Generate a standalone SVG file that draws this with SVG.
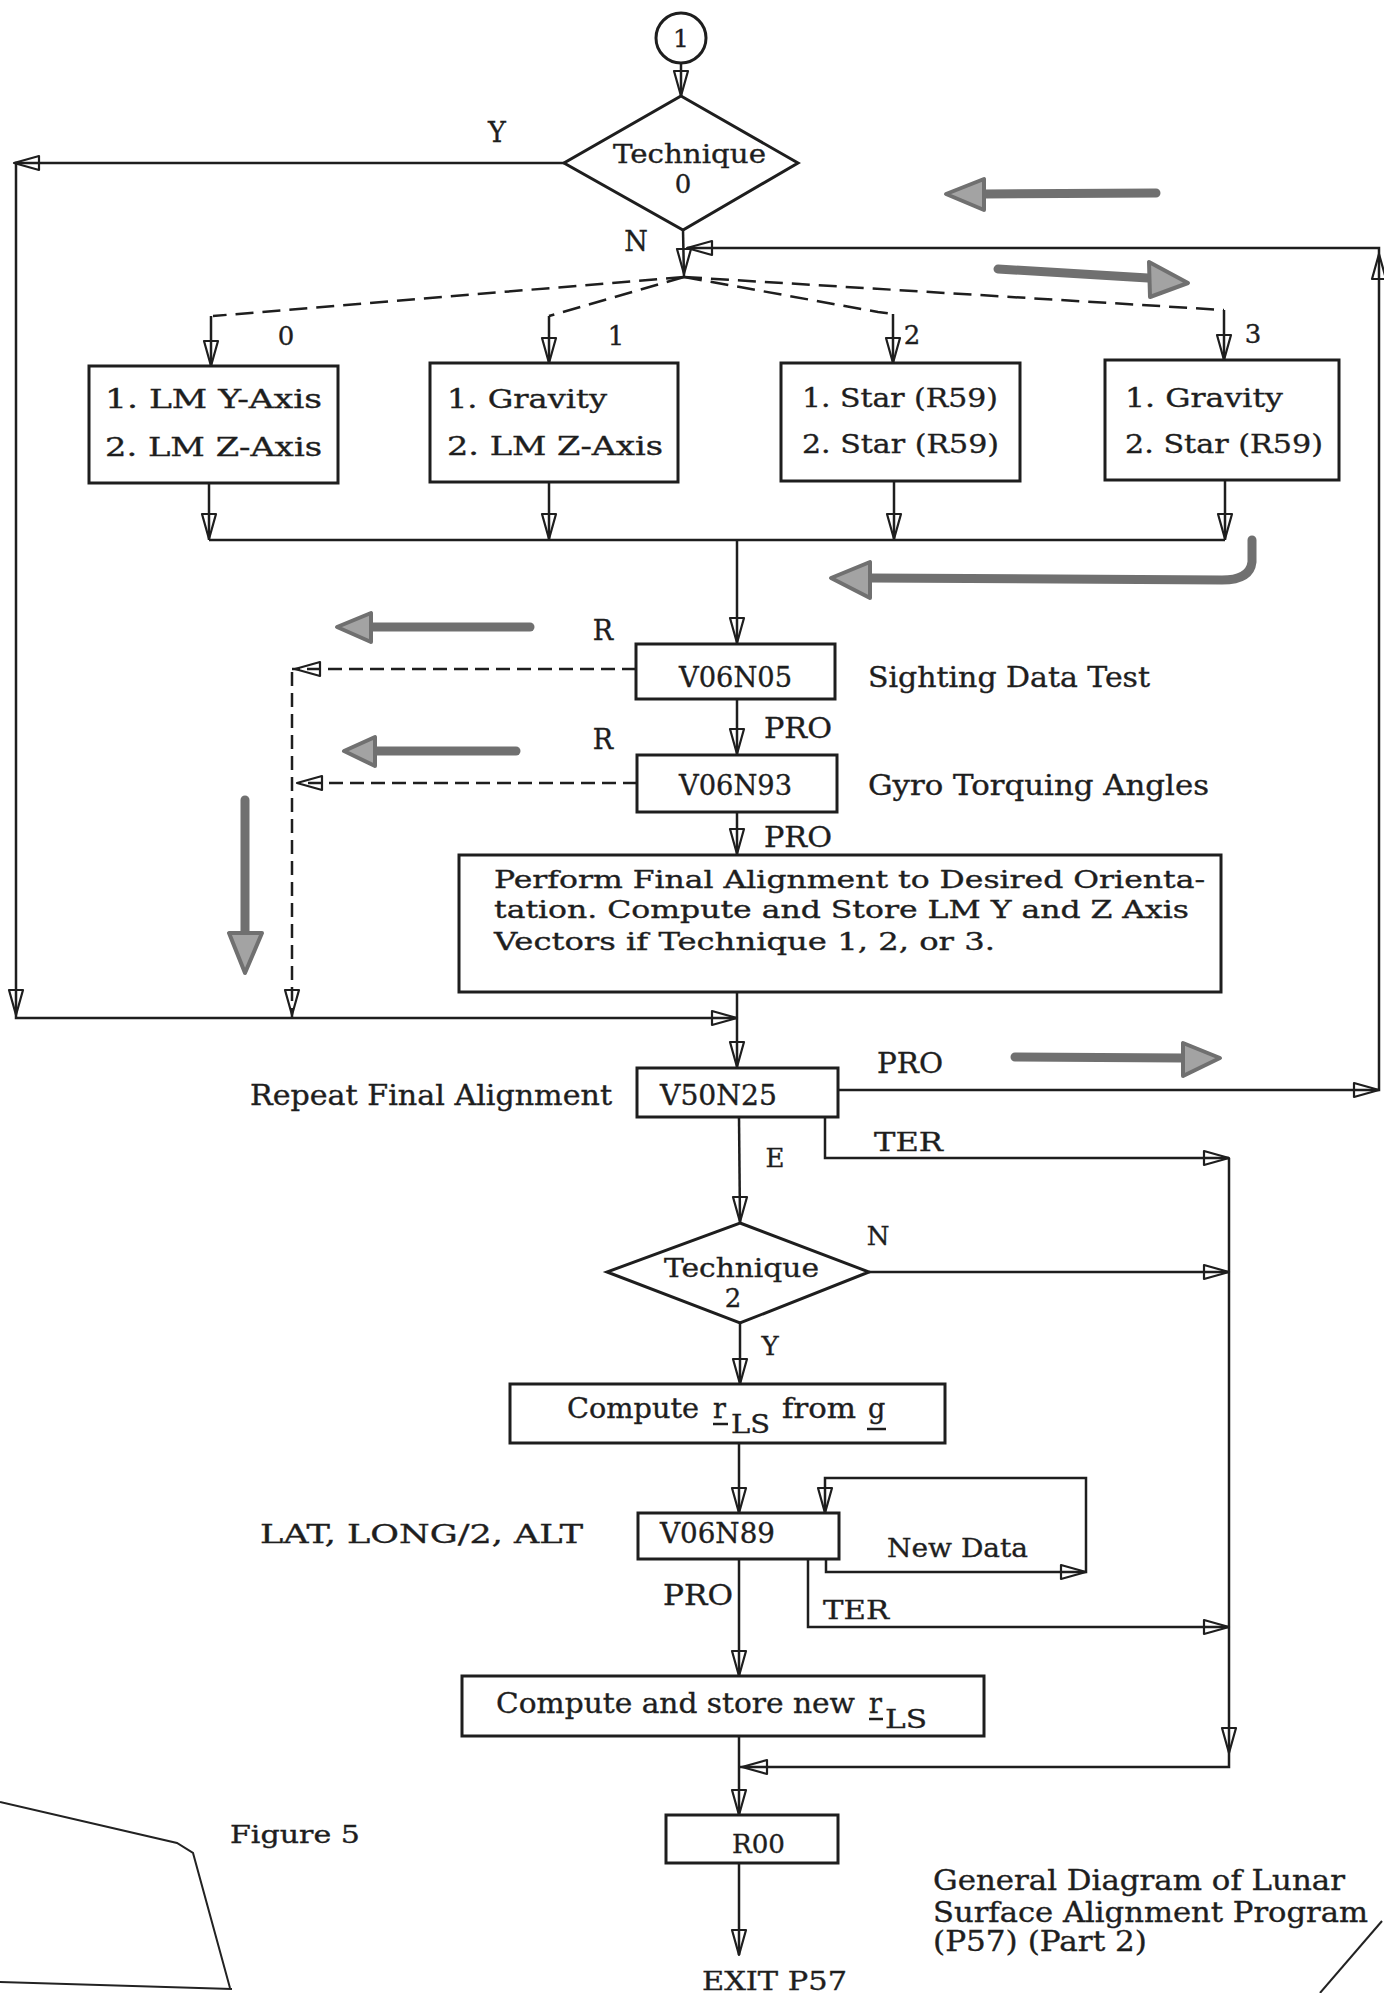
<svg xmlns="http://www.w3.org/2000/svg" width="1384" height="1993" viewBox="0 0 1384 1993">
<style>
.t{font-family:"DejaVu Serif","Liberation Serif",serif;fill:#1e1e1e;stroke:#1e1e1e;stroke-width:0.35;}
.box{fill:none;stroke:#1e1e1e;stroke-width:3;}
.ln{fill:none;stroke:#1e1e1e;stroke-width:2.5;}
.dash{fill:none;stroke:#1e1e1e;stroke-width:2.5;stroke-dasharray:18 9;}
.dash2{fill:none;stroke:#1e1e1e;stroke-width:2.5;stroke-dasharray:14 7;}
.gray{fill:none;stroke:#707070;stroke-width:9;stroke-linecap:round;stroke-linejoin:round;}
.ghead{fill:#a3a3a3;stroke:#707070;stroke-width:4;stroke-linejoin:round;}
.edge{fill:none;stroke:#222;stroke-width:2;}
</style>
<defs>
<path id="ah" d="M0,0 L-7,-25 L7,-25 Z" fill="none" stroke="#1e1e1e" stroke-width="2.2" stroke-linejoin="round"/>
</defs>
<rect width="1384" height="1993" fill="#ffffff"/>

<!-- nodes -->
<g id="start">
<ellipse cx="681" cy="38" rx="25" ry="25" class="box"/>
<text class="t" x="681" y="47" font-size="25" text-anchor="middle">1</text>
</g>
<g id="dec-technique0">
<polygon points="681,96 798,163 683,230 564,163" class="box"/>
<text class="t" x="613" y="163" font-size="26" textLength="153" lengthAdjust="spacingAndGlyphs">Technique</text>
<text class="t" x="683" y="193" font-size="26" text-anchor="middle">0</text>
</g>
<g id="box-t0">
<rect x="89" y="366" width="249" height="117" class="box"/>
<text class="t" x="105" y="408" font-size="26" textLength="217" lengthAdjust="spacingAndGlyphs">1.  LM Y-Axis</text>
<text class="t" x="105" y="456" font-size="26" textLength="217" lengthAdjust="spacingAndGlyphs">2.  LM Z-Axis</text>
</g>
<g id="box-t1">
<rect x="430" y="363" width="248" height="119" class="box"/>
<text class="t" x="447" y="408" font-size="26" textLength="160" lengthAdjust="spacingAndGlyphs">1.  Gravity</text>
<text class="t" x="447" y="455" font-size="26" textLength="216" lengthAdjust="spacingAndGlyphs">2.  LM Z-Axis</text>
</g>
<g id="box-t2">
<rect x="781" y="363" width="239" height="118" class="box"/>
<text class="t" x="802" y="407" font-size="26" textLength="196" lengthAdjust="spacingAndGlyphs">1.  Star (R59)</text>
<text class="t" x="802" y="453" font-size="26" textLength="197" lengthAdjust="spacingAndGlyphs">2.  Star (R59)</text>
</g>
<g id="box-t3">
<rect x="1105" y="360" width="234" height="120" class="box"/>
<text class="t" x="1125" y="407" font-size="26" textLength="158" lengthAdjust="spacingAndGlyphs">1.  Gravity</text>
<text class="t" x="1125" y="453" font-size="26" textLength="198" lengthAdjust="spacingAndGlyphs">2.  Star (R59)</text>
</g>
<g id="v06n05">
<rect x="636" y="644" width="199" height="55" class="box"/>
<text class="t" x="679" y="687" font-size="27" textLength="113" lengthAdjust="spacingAndGlyphs">V06N05</text>
<text class="t" x="868" y="687" font-size="27" textLength="282" lengthAdjust="spacingAndGlyphs">Sighting Data Test</text>
</g>
<g id="v06n93">
<rect x="637" y="755" width="200" height="57" class="box"/>
<text class="t" x="679" y="795" font-size="27" textLength="113" lengthAdjust="spacingAndGlyphs">V06N93</text>
<text class="t" x="868" y="795" font-size="27" textLength="341" lengthAdjust="spacingAndGlyphs">Gyro Torquing Angles</text>
</g>
<g id="final-align">
<rect x="459" y="855" width="762" height="137" class="box"/>
<text class="t" x="494" y="888" font-size="24" textLength="711" lengthAdjust="spacingAndGlyphs">Perform Final Alignment to Desired Orienta-</text>
<text class="t" x="494" y="918" font-size="24" textLength="695" lengthAdjust="spacingAndGlyphs">tation.  Compute and Store LM Y and Z Axis</text>
<text class="t" x="494" y="950" font-size="24" textLength="501" lengthAdjust="spacingAndGlyphs">Vectors if Technique 1, 2, or 3.</text>
</g>
<g id="v50n25">
<rect x="637" y="1068" width="201" height="49" class="box"/>
<text class="t" x="660" y="1105" font-size="27" textLength="117" lengthAdjust="spacingAndGlyphs">V50N25</text>
<text class="t" x="250" y="1105" font-size="27" textLength="362" lengthAdjust="spacingAndGlyphs">Repeat Final Alignment</text>
</g>
<g id="dec-technique2">
<polygon points="740,1223 869,1272 740,1323 607,1272" class="box"/>
<text class="t" x="664" y="1277" font-size="26" textLength="155" lengthAdjust="spacingAndGlyphs">Technique</text>
<text class="t" x="733" y="1307" font-size="26" text-anchor="middle">2</text>
</g>
<g id="compute-rls">
<rect x="510" y="1384" width="435" height="59" class="box"/>
<text class="t" x="567" y="1418" font-size="27" textLength="132" lengthAdjust="spacingAndGlyphs">Compute</text>
<text class="t" x="713" y="1418" font-size="27">r</text>
<text class="t" x="731" y="1433" font-size="26" textLength="39" lengthAdjust="spacingAndGlyphs">LS</text>
<text class="t" x="782" y="1418" font-size="27" textLength="74" lengthAdjust="spacingAndGlyphs">from</text>
<text class="t" x="868" y="1418" font-size="27">g</text>
<line x1="713" y1="1424" x2="728" y2="1424" class="ln" stroke-width="2"/>
<line x1="867" y1="1429" x2="886" y2="1429" class="ln" stroke-width="2"/>
</g>
<g id="v06n89">
<rect x="638" y="1513" width="201" height="46" class="box"/>
<text class="t" x="660" y="1543" font-size="27" textLength="115" lengthAdjust="spacingAndGlyphs">V06N89</text>
<text class="t" x="260" y="1543" font-size="26" textLength="323" lengthAdjust="spacingAndGlyphs">LAT, LONG/2, ALT</text>
</g>
<g id="store-rls">
<rect x="462" y="1676" width="522" height="60" class="box"/>
<text class="t" x="496" y="1713" font-size="27" textLength="359" lengthAdjust="spacingAndGlyphs">Compute and store new</text>
<text class="t" x="869" y="1713" font-size="27">r</text>
<text class="t" x="885" y="1728" font-size="26" textLength="42" lengthAdjust="spacingAndGlyphs">LS</text>
<line x1="869" y1="1719" x2="883" y2="1719" class="ln" stroke-width="2"/>
</g>
<g id="r00">
<rect x="666" y="1815" width="172" height="48" class="box"/>
<text class="t" x="732" y="1853" font-size="26" textLength="53" lengthAdjust="spacingAndGlyphs">R00</text>
</g>
<g id="exit">
<text class="t" x="702" y="1990" font-size="26" textLength="145" lengthAdjust="spacingAndGlyphs">EXIT P57</text>
</g>
<g id="caption">
<text class="t" x="230" y="1843" font-size="25" textLength="130" lengthAdjust="spacingAndGlyphs">Figure 5</text>
<text class="t" x="933" y="1890" font-size="27" textLength="412" lengthAdjust="spacingAndGlyphs">General Diagram of Lunar</text>
<text class="t" x="933" y="1922" font-size="27" textLength="435" lengthAdjust="spacingAndGlyphs">Surface Alignment Program</text>
<text class="t" x="933" y="1951" font-size="27" textLength="214" lengthAdjust="spacingAndGlyphs">(P57) (Part 2)</text>
</g>

<!-- connectors -->
<g id="connectors">
<line x1="681" y1="63" x2="681" y2="96" class="ln"/>
<use href="#ah" transform="translate(681,96)"/>
<!-- Y branch -->
<polyline points="564,163 16,163 16,1018 737,1018" class="ln"/>
<use href="#ah" transform="translate(14,163) rotate(90)"/>
<use href="#ah" transform="translate(16,1015)"/>
<use href="#ah" transform="translate(737,1018) rotate(-90)"/>
<!-- N branch -->
<line x1="683" y1="230" x2="684" y2="277" class="ln"/>
<use href="#ah" transform="translate(684,274)"/>
<polyline points="684,277 213,316" class="dash"/>
<polyline points="684,277 549,316" class="dash"/>
<polyline points="684,277 878,312 893,314" class="dash"/>
<polyline points="684,277 1224,310" class="dash"/>
<line x1="211" y1="316" x2="211" y2="366" class="ln"/>
<use href="#ah" transform="translate(211,366)"/>
<line x1="549" y1="316" x2="549" y2="363" class="ln"/>
<use href="#ah" transform="translate(549,363)"/>
<line x1="893" y1="314" x2="893" y2="363" class="ln"/>
<use href="#ah" transform="translate(893,363)"/>
<line x1="1224" y1="310" x2="1224" y2="360" class="ln"/>
<use href="#ah" transform="translate(1224,360)"/>
<!-- labels on branches -->
<text class="t" x="497" y="142" font-size="27" text-anchor="middle">Y</text>
<text class="t" x="636" y="251" font-size="27" text-anchor="middle">N</text>
<text class="t" x="286" y="345" font-size="26" text-anchor="middle">0</text>
<text class="t" x="616" y="345" font-size="26" text-anchor="middle">1</text>
<text class="t" x="912" y="344" font-size="26" text-anchor="middle">2</text>
<text class="t" x="1253" y="343" font-size="26" text-anchor="middle">3</text>
<!-- merge -->
<line x1="209" y1="483" x2="209" y2="540" class="ln"/>
<use href="#ah" transform="translate(209,539)"/>
<line x1="549" y1="482" x2="549" y2="540" class="ln"/>
<use href="#ah" transform="translate(549,539)"/>
<line x1="894" y1="481" x2="894" y2="540" class="ln"/>
<use href="#ah" transform="translate(894,539)"/>
<line x1="1225" y1="480" x2="1225" y2="540" class="ln"/>
<use href="#ah" transform="translate(1225,539)"/>
<line x1="209" y1="540" x2="1225" y2="540" class="ln"/>
<line x1="737" y1="540" x2="737" y2="644" class="ln"/>
<use href="#ah" transform="translate(737,643)"/>
<!-- sighting / gyro -->
<line x1="737" y1="699" x2="737" y2="755" class="ln"/>
<use href="#ah" transform="translate(737,754)"/>
<text class="t" x="764" y="738" font-size="27" textLength="68" lengthAdjust="spacingAndGlyphs">PRO</text>
<line x1="737" y1="812" x2="737" y2="855" class="ln"/>
<use href="#ah" transform="translate(737,854)"/>
<text class="t" x="764" y="847" font-size="27" textLength="68" lengthAdjust="spacingAndGlyphs">PRO</text>
<line x1="636" y1="669" x2="300" y2="669" class="dash2"/>
<polyline points="292,672 292,1018" class="dash2"/>
<line x1="292" y1="669" x2="300" y2="669" class="ln"/>
<use href="#ah" transform="translate(295,669) rotate(90)"/>
<use href="#ah" transform="translate(292,1015)"/>
<text class="t" x="603" y="640" font-size="27" text-anchor="middle">R</text>
<line x1="637" y1="783" x2="300" y2="783" class="dash2"/>
<use href="#ah" transform="translate(297,783) rotate(90)"/>
<text class="t" x="603" y="749" font-size="27" text-anchor="middle">R</text>
<!-- to V50N25 -->
<line x1="737" y1="992" x2="737" y2="1068" class="ln"/>
<use href="#ah" transform="translate(737,1067)"/>
<!-- PRO loop back -->
<polyline points="838,1090 1379,1090 1379,248 687,248" class="ln"/>
<use href="#ah" transform="translate(1379,1090) rotate(-90)"/>
<use href="#ah" transform="translate(1379,254) rotate(180)"/>
<use href="#ah" transform="translate(687,248) rotate(90)"/>
<text class="t" x="877" y="1073" font-size="27" textLength="66" lengthAdjust="spacingAndGlyphs">PRO</text>
<!-- TER -->
<polyline points="825,1117 825,1158 1229,1158" class="ln"/>
<use href="#ah" transform="translate(1229,1158) rotate(-90)"/>
<text class="t" x="874" y="1151" font-size="26" textLength="69" lengthAdjust="spacingAndGlyphs">TER</text>
<!-- E -->
<line x1="739" y1="1117" x2="740" y2="1223" class="ln"/>
<use href="#ah" transform="translate(740,1222)"/>
<text class="t" x="775" y="1167" font-size="26" text-anchor="middle">E</text>
<!-- N of technique 2 -->
<line x1="869" y1="1272" x2="1229" y2="1272" class="ln"/>
<use href="#ah" transform="translate(1229,1272) rotate(-90)"/>
<text class="t" x="878" y="1245" font-size="26" text-anchor="middle">N</text>
<!-- right collector -->
<polyline points="1229,1158 1229,1767 739,1767" class="ln"/>
<use href="#ah" transform="translate(1229,1753)"/>
<use href="#ah" transform="translate(742,1767) rotate(90)"/>
<!-- Y of technique 2 -->
<line x1="740" y1="1323" x2="740" y2="1384" class="ln"/>
<use href="#ah" transform="translate(740,1384)"/>
<text class="t" x="770" y="1355" font-size="26" text-anchor="middle">Y</text>
<line x1="739" y1="1443" x2="739" y2="1513" class="ln"/>
<use href="#ah" transform="translate(739,1513)"/>
<!-- New Data loop -->
<polyline points="826,1559 826,1572 1086,1572 1086,1478 825,1478 825,1513" class="ln"/>
<use href="#ah" transform="translate(1086,1572) rotate(-90)"/>
<use href="#ah" transform="translate(825,1513)"/>
<text class="t" x="887" y="1557" font-size="26" textLength="141" lengthAdjust="spacingAndGlyphs">New Data</text>
<!-- TER of V06N89 -->
<polyline points="808,1559 808,1627 1229,1627" class="ln"/>
<use href="#ah" transform="translate(1229,1627) rotate(-90)"/>
<text class="t" x="823" y="1619" font-size="26" textLength="66" lengthAdjust="spacingAndGlyphs">TER</text>
<!-- PRO of V06N89 -->
<line x1="739" y1="1559" x2="739" y2="1676" class="ln"/>
<use href="#ah" transform="translate(739,1676)"/>
<text class="t" x="663" y="1605" font-size="27" textLength="70" lengthAdjust="spacingAndGlyphs">PRO</text>
<line x1="739" y1="1736" x2="739" y2="1815" class="ln"/>
<use href="#ah" transform="translate(739,1815)"/>
<line x1="739" y1="1863" x2="739" y2="1955" class="ln"/>
<use href="#ah" transform="translate(739,1955)"/>
</g>

<!-- hand-drawn gray marker arrows -->
<g id="annotations">
<line x1="1156" y1="193" x2="984" y2="194" class="gray"/>
<polygon points="946,194 984,179 984,210" class="ghead"/>
<line x1="998" y1="269" x2="1148" y2="278" class="gray"/>
<polygon points="1188,283 1149,262 1150,297" class="ghead"/>
<path d="M1252,540 L1252,562 Q1250,580 1222,580 L870,578" class="gray"/>
<polygon points="831,578 870,562 870,598" class="ghead"/>
<line x1="530" y1="627" x2="371" y2="627" class="gray"/>
<polygon points="337,627 371,613 371,642" class="ghead"/>
<line x1="516" y1="751" x2="375" y2="751" class="gray"/>
<polygon points="344,751 375,737 375,766" class="ghead"/>
<line x1="245" y1="800" x2="245" y2="933" class="gray"/>
<polygon points="245,973 229,933 262,933" class="ghead"/>
<line x1="1015" y1="1057" x2="1183" y2="1058" class="gray"/>
<polygon points="1220,1058 1183,1043 1183,1076" class="ghead"/>
</g>

<!-- paper edges from the photocopy -->
<g id="edges">
<polyline points="0,1802 177,1843 193,1853 230,1988" class="edge"/>
<line x1="0" y1="1982" x2="232" y2="1989" class="edge" stroke-width="4"/>
<line x1="1382" y1="1921" x2="1320" y2="1993" class="edge"/>
</g>
</svg>
